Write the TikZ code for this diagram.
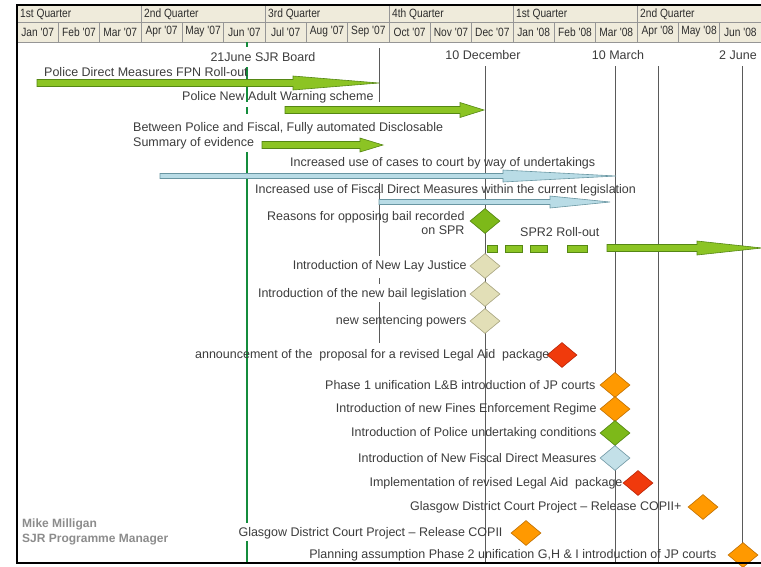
\documentclass[tikz,border=0pt]{standalone}
\usepackage{fontspec}
\setmainfont{Liberation Sans}
\newfontfamily\narrowfont[FakeStretch=0.85]{Liberation Sans}
\usepackage{xcolor}
\usetikzlibrary{positioning,shapes.geometric}

\definecolor{hdrFill}{RGB}{239,235,219}
\definecolor{hdrText}{RGB}{45,45,45}
\definecolor{gridGray}{RGB}{150,150,150}
\definecolor{txtGray}{RGB}{60,60,60}
\definecolor{lineGray}{RGB}{90,90,90}
\definecolor{boardGreen}{RGB}{20,140,60}
\definecolor{barGreen}{RGB}{140,196,36}
\definecolor{barGreenDk}{RGB}{85,135,20}
\definecolor{barBlue}{RGB}{185,220,230}
\definecolor{barBlueDk}{RGB}{105,150,162}
\definecolor{msGreen}{RGB}{125,185,25}
\definecolor{msGreenDk}{RGB}{80,130,15}
\definecolor{msBeige}{RGB}{226,223,183}
\definecolor{msBeigeDk}{RGB}{165,162,125}
\definecolor{msRed}{RGB}{240,58,12}
\definecolor{msRedDk}{RGB}{185,35,5}
\definecolor{msOrange}{RGB}{255,153,0}
\definecolor{msOrangeDk}{RGB}{190,110,0}
\definecolor{msBlue}{RGB}{195,224,232}
\definecolor{msBlueDk}{RGB}{110,150,162}
\definecolor{signGray}{RGB}{140,140,140}

% timeline bar: style, y, start, head start, tip, shaft half, head half
\newcommand{\tlbar}[7]{%
  \draw[#1] (#3,#2-#6) -- (#4,#2-#6) -- (#4,#2-#7) -- (#5,#2) -- (#4,#2+#7) -- (#4,#2+#6) -- (#3,#2+#6) -- cycle;}

\begin{document}
\begin{tikzpicture}[x=1pt, y=-1pt, font=\fontsize{12.5}{14.5}\selectfont,
  gridline/.style={draw=gridGray, line width=0.6pt},
  hdrtext/.style={font=\narrowfont\fontsize{12}{14}\selectfont, text=hdrText, inner sep=0pt},
  datelbl/.style={text=txtGray, inner sep=0pt},
  barlbl/.style={text=txtGray, inner sep=0pt, anchor=west},
  mslbl/.style={text=txtGray, inner sep=0pt, align=right},
  milestone/.style={diamond, minimum width=30pt, minimum height=25pt, inner sep=0pt, line width=0.6pt},
  msgreen/.style={milestone, fill=msGreen, draw=msGreenDk},
  msbeige/.style={milestone, fill=msBeige, draw=msBeigeDk},
  msred/.style={milestone, fill=msRed, draw=msRedDk},
  msorange/.style={milestone, fill=msOrange, draw=msOrangeDk},
  msblue/.style={milestone, fill=msBlue, draw=msBlueDk},
  greenbar/.style={fill=barGreen, draw=barGreenDk, line width=0.6pt},
  bluebar/.style={fill=barBlue, draw=barBlueDk, line width=0.6pt},
  dateline/.style={draw=lineGray, line width=0.8pt},
  boardline/.style={draw=boardGreen, line width=1.8pt}]

\useasboundingbox (0,0) rectangle (761,566);

% Header band
\fill[hdrFill] (17,5) rectangle (761,42);
\draw[gridline] (17,22) -- (761,22);
\draw[gridline] (17,42) -- (761,42);
\foreach \i in {1,...,17} {
    \draw[gridline] (17+41.333*\i,22) -- (17+41.333*\i,42);
}
\foreach \q in {1,...,5} {
    \draw[gridline] (17+124*\q,5) -- (17+124*\q,42);
}
\foreach \qn [count=\q from 0] in {1st Quarter, 2nd Quarter, 3rd Quarter, 4th Quarter, 1st Quarter, 2nd Quarter} {
    \node[hdrtext, anchor=west] (q\q) at (20+124*\q,14) {\qn};
}
\foreach \mn [count=\i from 0] in {Jan '07, Feb '07, Mar '07, Apr '07, May '07, Jun '07, Jul '07, Aug '07, Sep '07, Oct '07, Nov '07, Dec '07, Jan '08, Feb '08, Mar '08, Apr '08, May '08, Jun '08} {
    \node[hdrtext] (m\i) at (37.67+41.333*\i,32) {\mn};
}

% Key dates
\node[datelbl] (board) at (263,57) {21June SJR Board};
\node[datelbl] (dec) at (483,55) {10 December};
\node[datelbl] (mar) at (618,55) {10 March};
\node[datelbl] (jun) at (738,55) {2 June};

% Date lines
\draw[boardline] (247,42) -- (247,47);
\draw[boardline] (247,67) -- (247,102);
\draw[boardline] (247,107) -- (247,114);
\draw[boardline] (247,152) -- (247,523);
\draw[boardline] (247,541) -- (247,563);
\draw[dateline] (379,48) -- (379,102);
\draw[dateline] (379,183) -- (379,256);
\draw[dateline] (379,278) -- (379,284);
\draw[dateline] (379,302) -- (379,343);
\draw[dateline] (485,66) -- (485,563);
\draw[dateline] (615,66) -- (615,563);
\draw[dateline] (658,66) -- (658,563);
\draw[dateline] (742,66) -- (742,563);

% Roll-out bars
\node[barlbl] (fpn) at (44,72) {Police Direct Measures FPN Roll-out};
\tlbar{greenbar}{83}{37}{293}{379}{3.5}{7}
\node[barlbl] (warn) at (182,97) {Police New Adult Warning scheme};
\tlbar{greenbar}{110}{285}{460}{484}{3.5}{7.5}
\node[barlbl] (disc) at (133,128) {Between Police and Fiscal, Fully automated Disclosable};
\node[barlbl] (summ) at (133,143) {Summary of evidence};
\tlbar{greenbar}{145}{262}{360}{383}{3.5}{7}
\node[barlbl] (court) at (290,163) {Increased use of cases to court by way of undertakings};
\tlbar{bluebar}{176}{160}{503}{616}{2.5}{6}
\node[barlbl] (fdm) at (255,190) {Increased use of Fiscal Direct Measures within the current legislation};
\tlbar{bluebar}{202}{379}{550}{610}{2.5}{6}

% SPR2 roll-out
\node[barlbl] (spr2) at (520,232) {SPR2 Roll-out};
\foreach \a/\b in {487/497, 505/522, 530/547, 567/587} {
    \draw[greenbar] (\a,245) rectangle (\b,252);
}
\tlbar{greenbar}{248}{607}{697}{762}{3.5}{7}

% Milestones
\node[msgreen] (d1) at (485,221) {};
\node[msbeige] (d2) at (485,266) {};
\node[msbeige] (d3) at (485,294) {};
\node[msbeige] (d4) at (485,321) {};
\node[msred] (d5) at (562,355) {};
\node[msorange] (d6) at (615,385) {};
\node[msorange] (d7) at (615,409) {};
\node[msgreen] (d8) at (615,433) {};
\node[msblue] (d9) at (615,458) {};
\node[msred] (d10) at (638,483) {};
\node[msorange] (d11) at (703,507) {};
\node[msorange] (d12) at (526,533) {};
\node[msorange] (d13) at (743,555) {};

\node[mslbl, left=5pt of d1, yshift=-2pt] (l1) {Reasons for opposing bail recorded\\on SPR};
\node[mslbl, left=3pt of d2] (l2) {Introduction of New Lay Justice};
\node[mslbl, left=3pt of d3] (l3) {Introduction of the new bail legislation};
\node[mslbl, left=3pt of d4] (l4) {new sentencing powers};
\node[mslbl, left=-3pt of d5] (l5) {announcement of the~ proposal for a revised Legal Aid~ package};
\node[mslbl, left=4pt of d6] (l6) {Phase 1 unification L\&B introduction of JP courts};
\node[mslbl, left=3pt of d7] (l7) {Introduction of new Fines Enforcement Regime};
\node[mslbl, left=3pt of d8] (l8) {Introduction of Police undertaking conditions};
\node[mslbl, left=3pt of d9] (l9) {Introduction of New Fiscal Direct Measures};
\node[mslbl, left=0pt of d10] (l10) {Implementation of revised Legal Aid~ package};
\node[mslbl, left=6pt of d11] (l11) {Glasgow District Court Project -- Release COPII+};
\node[mslbl, left=8pt of d12] (l12) {Glasgow District Court Project -- Release COPII};
\node[mslbl, left=11pt of d13] (l13) {Planning assumption Phase 2 unification G,H \& I introduction of JP courts};

% Signature
\node[anchor=north west, inner sep=0pt, align=left, text=signGray, font=\bfseries\fontsize{12}{14.5}\selectfont] (sign) at (22,519) {Mike Milligan\\SJR Programme Manager};

% Frame
\draw[line width=2pt] (17,5) -- (761,5);
\draw[line width=2pt] (17,4) -- (17,564);
\draw[line width=2pt] (17,563) -- (761,563);

\end{tikzpicture}
\end{document}
